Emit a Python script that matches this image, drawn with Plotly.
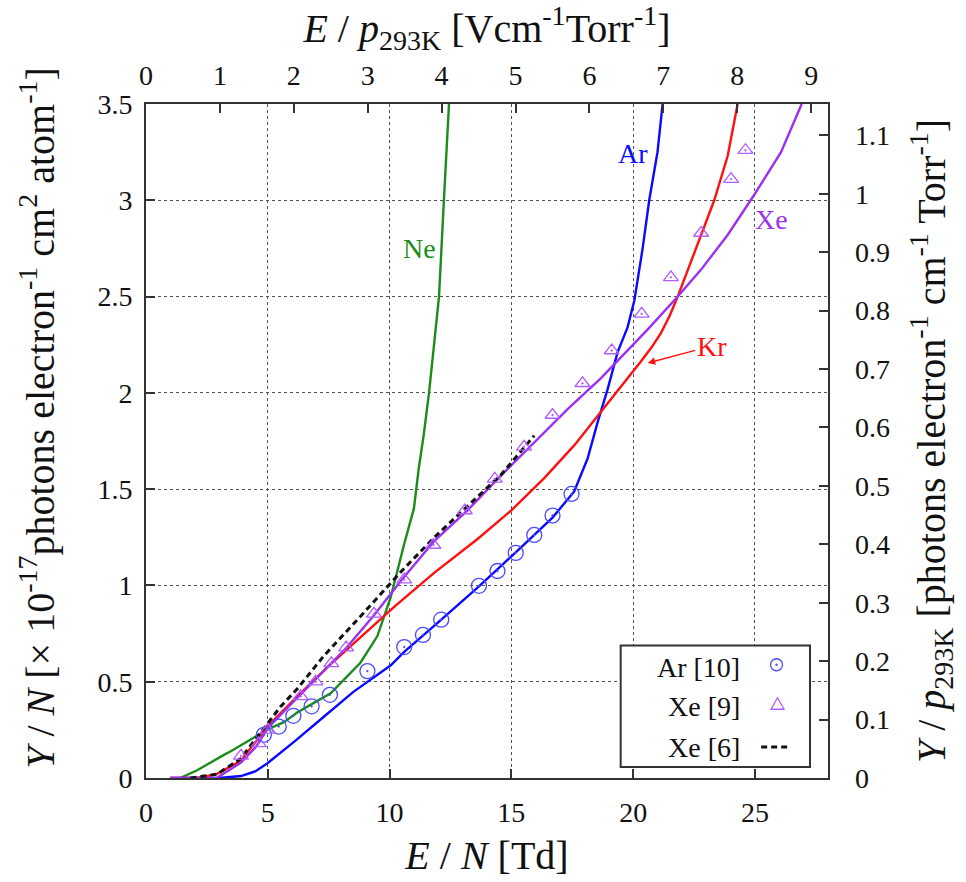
import plotly.graph_objects as go

# Reduced field E/N [Td] and reduced scintillation yield Y/N [1e-17 photons e^-1 cm^2 atom^-1]
ne_x = [1.4, 2.1, 3.2, 3.5, 4.57, 5.04, 5.66, 6.21, 6.89, 7.58, 8.2, 8.81, 9.5, 10.05, 10.6, 11.0, 11.2, 11.4,
        11.62, 12.03, 12.23, 12.44]
ne_y = [0.0, 0.04, 0.12, 0.14, 0.22, 0.255, 0.29, 0.34, 0.39, 0.44, 0.52, 0.60, 0.737, 0.94, 1.215, 1.40, 1.61,
        1.78, 2.0, 2.5, 3.0, 3.5]

ar_x = [1.0, 3.0, 3.9, 4.5, 5.0, 6.1, 7.3, 8.5, 10.05, 10.6, 12.1, 13.67, 15.18, 16.69, 17.58, 18.13, 18.54,
        18.95, 19.36, 19.77, 20.05, 20.39, 20.66, 21.0, 21.21]
ar_y = [0.0, 0.0, 0.01, 0.035, 0.078, 0.19, 0.318, 0.446, 0.585, 0.655, 0.82, 0.995, 1.172, 1.352, 1.488, 1.659,
        1.847, 2.018, 2.21, 2.34, 2.48, 2.75, 3.0, 3.25, 3.5]

kr_x = [1.0, 2.1, 2.9, 3.9, 5.0, 6.1, 7.44, 8.8, 10.2, 11.83, 13.6, 15.0, 16.35, 17.58, 18.68, 19.5, 20.3,
        20.75, 21.14, 21.5, 21.83, 22.79, 23.33, 23.88, 24.29]
kr_y = [0.0, 0.0, 0.02, 0.09, 0.27, 0.41, 0.575, 0.73, 0.89, 1.065, 1.24, 1.39, 1.557, 1.727, 1.90, 2.03,
        2.16, 2.235, 2.31, 2.40, 2.50, 2.82, 3.0, 3.23, 3.5]

xe_x = [1.0, 2.9, 3.9, 4.5, 5.04, 5.66, 6.35, 6.9, 7.6, 8.22, 9.36, 10.5, 11.83, 13.2, 14.57, 15.94, 17.31,
        18.68, 19.91, 20.6, 21.83, 22.79, 23.88, 24.98, 26.07, 26.92]
xe_y = [0.0, 0.0, 0.08, 0.16, 0.265, 0.345, 0.43, 0.50, 0.59, 0.675, 0.845, 1.03, 1.23, 1.39, 1.57, 1.745,
        1.915, 2.077, 2.24, 2.33, 2.50, 2.64, 2.82, 3.03, 3.25, 3.5]

# Xe [6]: earlier calculation (dashed)
xe6_x = [1.83, 2.92, 3.88, 5.04, 5.52, 6.21, 7.3, 8.81, 9.36, 10.46, 11.83, 13.2, 14.57, 15.94]
xe6_y = [0.0, 0.02, 0.10, 0.29, 0.37, 0.463, 0.634, 0.84, 0.915, 1.07, 1.249, 1.41, 1.574, 1.778]

# Measurements: Ar [10] (circles) and Xe [9] (triangles)
ar10_x = [4.84, 5.45, 6.05, 6.8, 7.55, 9.09, 10.6, 11.37, 12.12, 13.67, 14.43, 15.18, 15.94, 16.69, 17.47]
ar10_y = [0.224, 0.267, 0.323, 0.372, 0.432, 0.555, 0.68, 0.743, 0.822, 0.998, 1.075, 1.169, 1.262, 1.363, 1.475]

xe9_x = [3.9, 4.63, 5.0, 6.35, 6.96, 7.61, 8.22, 9.36, 10.6, 11.8, 13.09, 14.32, 15.52, 16.69, 17.92, 19.12,
         20.35, 21.55, 22.79, 24.02, 24.61]
xe9_y = [0.115, 0.18, 0.25, 0.424, 0.50, 0.595, 0.677, 0.852, 1.03, 1.21, 1.389, 1.553, 1.72, 1.885, 2.05, 2.22,
         2.41, 2.60, 2.83, 3.11, 3.26]

# Gas number density at 1 Torr, 293 K -> conversion Td <-> V cm^-1 Torr^-1
k_B = 1.380649e-23
TORR = 133.322
N_1TORR = TORR / (k_B * 293.0) * 1e-6          # cm^-3
CONV = 1e-17 * N_1TORR                         # ~0.3296

X_MAX = 28.0
Y_MAX = 3.5

x_ticks = [0, 5, 10, 15, 20, 25]
y_ticks = [0, 0.5, 1, 1.5, 2, 2.5, 3, 3.5]
x2_ticks = list(range(0, 10))
y2_ticks = [round(0.1 * i, 1) for i in range(0, 12)]

C_NE = "#1c8c1c"
C_AR = "#0a0aff"
C_KR = "#ff1010"
C_XE = "#9a30f0"
C_AR_PTS = "#4a4aff"
C_XE_PTS = "#b05cff"
FRAME = "#333333"
FONT = "Liberation Serif"

fig = go.Figure()

fig.add_trace(go.Scatter(x=ne_x, y=ne_y, mode="lines", line=dict(color=C_NE, width=2.4), name="Ne"))
fig.add_trace(go.Scatter(x=ar_x, y=ar_y, mode="lines", line=dict(color=C_AR, width=2.4), name="Ar"))
fig.add_trace(go.Scatter(x=kr_x, y=kr_y, mode="lines", line=dict(color=C_KR, width=2.4), name="Kr"))
fig.add_trace(go.Scatter(x=xe_x, y=xe_y, mode="lines", line=dict(color=C_XE, width=2.4), name="Xe"))
fig.add_trace(go.Scatter(x=xe6_x, y=xe6_y, mode="lines",
                         line=dict(color="#111111", width=3, dash="6px,4px"), name="Xe [6]"))
fig.add_trace(go.Scatter(x=ar10_x, y=ar10_y, mode="markers", name="Ar [10]",
                         marker=dict(symbol="circle-open-dot", size=15, color=C_AR_PTS,
                                     line=dict(width=1.3, color=C_AR_PTS))))
fig.add_trace(go.Scatter(x=xe9_x, y=xe9_y, mode="markers", name="Xe [9]",
                         marker=dict(symbol="triangle-up-open-dot", size=13, color=C_XE_PTS,
                                     line=dict(width=1.3, color=C_XE_PTS))))

# invisible trace so the secondary (top / right) scales are drawn
fig.add_trace(go.Scatter(x=[0, X_MAX * CONV], y=[0, Y_MAX * CONV], xaxis="x2", yaxis="y2", mode="markers",
                         marker=dict(opacity=0), hoverinfo="skip", showlegend=False))

tick_font = dict(family=FONT, size=28, color="#111111")
title_font = dict(family=FONT, size=40, color="#111111")

common = dict(ticks="inside", ticklen=9, tickwidth=1.6, tickcolor=FRAME, zeroline=False, tickfont=tick_font)

fig.update_layout(
    width=966, height=882,
    margin=dict(l=146, r=138, t=104, b=95),
    paper_bgcolor="white", plot_bgcolor="rgba(0,0,0,0)",
    showlegend=False,
    font=dict(family=FONT, color="#111111"),
    xaxis=dict(range=[0, X_MAX], tickvals=x_ticks, showline=True, linewidth=2, linecolor=FRAME, mirror=True,
               showgrid=True, griddash="dot", gridcolor="#555555", gridwidth=1, ticklabelstandoff=8,
               domain=[0, 1], anchor="y",
               title=dict(text="<i>E</i> / <i>N</i> [Td]", font=title_font, standoff=14), **common),
    yaxis=dict(range=[0, Y_MAX], tickvals=y_ticks, showline=True, linewidth=2, linecolor=FRAME, mirror=True,
               showgrid=True, griddash="dot", gridcolor="#555555", gridwidth=1, ticklabelstandoff=6,
               domain=[0, 1], anchor="x", **common),
    # secondary scales sharing the same frame: E/p at 293 K (top) and Y/p at 293 K (right)
    xaxis2=dict(range=[0, X_MAX * CONV], tickvals=x2_ticks, side="top", anchor="y2", domain=[0, 1],
                showline=False, showgrid=False, ticklabelstandoff=12,
                title=dict(text="<i>E</i> / <i>p</i><sub>293K</sub> [Vcm<sup>-1</sup>Torr<sup>-1</sup>]",
                           font=title_font, standoff=6), **common),
    yaxis2=dict(range=[0, Y_MAX * CONV], tickvals=y2_ticks, side="right", anchor="x2", domain=[0, 1],
                showline=False, showgrid=False, ticklabelstandoff=26,
                title=dict(text="<i>Y</i> / <i>p</i><sub>293K</sub> [photons electron<sup>-1</sup> "
                                "cm<sup>-1</sup> Torr<sup>-1</sup>]", font=title_font, standoff=27), **common),
)

# left scale title, set slightly above the plot centre
fig.add_annotation(x=-0.1584, y=0.5344, xref="paper", yref="paper", textangle=-90, showarrow=False,
                   xanchor="center", yanchor="middle", font=title_font,
                   text="<i>Y</i> / <i>N</i> [× 10<sup>-17</sup>photons electron<sup>-1</sup> "
                        "cm<sup>2</sup> atom<sup>-1</sup>]")

# curve labels
label_font = 28
fig.add_annotation(x=11.24, y=2.75, text="Ne", showarrow=False, font=dict(family=FONT, size=label_font, color=C_NE))
fig.add_annotation(x=20.0, y=3.245, text="Ar", showarrow=False, font=dict(family=FONT, size=label_font, color=C_AR))
fig.add_annotation(x=25.66, y=2.9, text="Xe", showarrow=False, font=dict(family=FONT, size=label_font, color=C_XE))
fig.add_annotation(x=20.6, y=2.155, ax=64, ay=-17, text="Kr", showarrow=True, arrowhead=2, arrowsize=1,
                   arrowwidth=1.5, arrowcolor=C_KR, standoff=0,
                   font=dict(family=FONT, size=label_font, color=C_KR))

# key box with text on the left and sample on the right
box_x0, box_x1, box_y0, box_y1 = 0.696, 0.9736, 0.0165, 0.1966
fig.add_shape(type="rect", xref="paper", yref="paper", x0=box_x0, x1=box_x1, y0=box_y0, y1=box_y1,
              line=dict(color=FRAME, width=2), fillcolor="white", layer="above")
key_rows = [("Ar [10]", 0.164), ("Xe [9]", 0.1054), ("Xe [6]", 0.0454)]
for text, yy in key_rows:
    fig.add_annotation(x=0.8734, y=yy, xref="paper", yref="paper", text=text, showarrow=False,
                       xanchor="right", yanchor="middle", font=dict(family=FONT, size=28, color="#111111"))
sym_x = 0.9245
fig.add_shape(type="circle", xref="paper", yref="paper", xsizemode="pixel", ysizemode="pixel",
              xanchor=sym_x, yanchor=0.1680, x0=-6, x1=6, y0=-6, y1=6,
              line=dict(color=C_AR_PTS, width=1.3), layer="above")
fig.add_shape(type="circle", xref="paper", yref="paper", xsizemode="pixel", ysizemode="pixel",
              xanchor=sym_x, yanchor=0.1680, x0=-0.8, x1=0.8, y0=-0.8, y1=0.8,
              line=dict(color=C_AR_PTS, width=1), fillcolor=C_AR_PTS, layer="above")
fig.add_shape(type="path", xref="paper", yref="paper", xsizemode="pixel", ysizemode="pixel",
              xanchor=sym_x + 0.0015, yanchor=0.1094, path="M -6.5,-5 L 6.5,-5 L 0,6.5 Z",
              line=dict(color=C_XE_PTS, width=1.3), layer="above")
fig.add_shape(type="line", xref="paper", yref="paper", x0=0.902, x1=0.946, y0=0.0460, y1=0.0460,
              line=dict(color="#111111", width=3, dash="6px,4px"), layer="above")

fig.write_html("out.html")
